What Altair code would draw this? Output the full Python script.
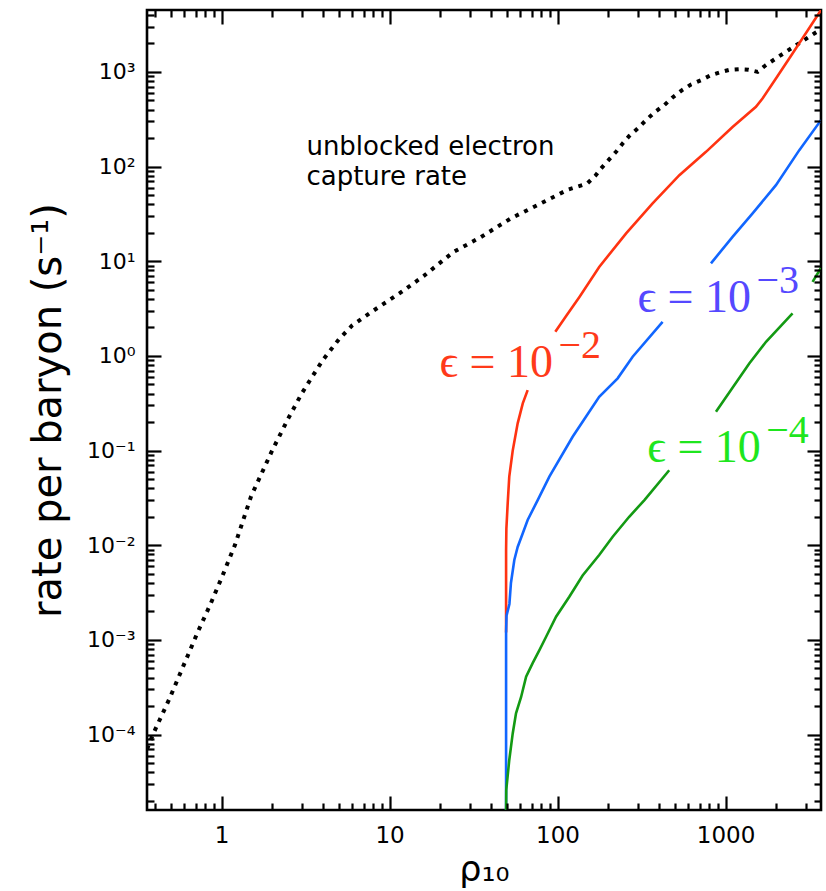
import altair as alt
import pandas as pd

# ---------------- data ----------------
dotted_rho = [0.36, 0.39, 0.49, 0.61, 0.72, 0.86, 1.0, 1.2, 1.5, 2.0, 2.5, 3.0, 3.5, 4.0, 5.0, 6.0, 8.0,
              11.5, 16, 24, 35, 53, 80, 115, 150, 168, 181, 203, 223, 244, 267, 300, 336, 382,
              432, 484, 551, 623, 714, 819, 927, 1052, 1208, 1371, 1552, 1740, 2290, 2800, 3373, 3700]
dotted_rate = [7e-5, 1e-4, 2.4e-4, 6e-4, 1.2e-3, 2.4e-3, 4.5e-3, 1.0e-2, 3.3e-2, 0.10, 0.22, 0.40, 0.62, 0.90,
               1.5, 2.1, 3.0,
               4.6, 7.0, 12.5, 18, 28.5, 41, 57, 66, 80, 95, 119, 143, 175, 210, 252, 309, 380,
               445, 537, 641, 736, 816, 923, 990, 1050, 1067, 1055, 1000, 1180, 1630, 2050, 2540, 2800]

red_rho_a = [49.4, 49.4, 49.6, 50.5, 51.6, 54.1, 57.9, 62.1, 66.4]
red_rate_a = [1.2e-3, 8.9e-3, 0.015, 0.0277, 0.053, 0.10, 0.194, 0.315, 0.435]
red_rho_b = [97, 112, 135, 177, 256, 368, 531, 765, 1101, 1517, 1660, 1995, 2505, 3700]
red_rate_b = [1.8, 2.6, 4.2, 8.7, 19.7, 40.8, 81, 143, 262, 427, 523, 852, 1563, 4490]

blue_rho_a = [49.4, 49.4, 49.7, 51.7, 52.8, 55.3, 57.9, 62.1, 66.4, 76.2, 89.4, 123, 177, 228, 280, 422]
blue_rate_a = [1.6e-5, 1.2e-3, 1.8e-3, 2.4e-3, 4.0e-3, 7.0e-3, 9.6e-3, 0.0134, 0.0185, 0.030, 0.053, 0.14,
               0.37, 0.58, 0.98, 2.29]
blue_rho_b = [819, 1101, 1449, 1995, 2748, 3700]
blue_rate_b = [9.5, 18.1, 32, 63.6, 149, 309]

green_rho_a = [49.4, 49.5, 51.6, 54.1, 56.6, 60.7, 65, 71.1, 78, 85.5, 98, 117.5, 141, 177, 213, 267, 329, 462]
green_rate_a = [1.55e-5, 2.6e-5, 5.4e-5, 1.03e-4, 1.68e-4, 2.5e-4, 4.1e-4, 5.7e-4, 7.8e-4, 1.08e-3, 1.76e-3,
                2.86e-3, 4.8e-3, 7.9e-3, 0.0123, 0.020, 0.030, 0.062]
green_rho_b = [877, 1384, 1742, 2505]
green_rate_b = [0.257, 0.83, 1.41, 2.81]
green_rho_c = [3296, 3700]
green_rate_c = [6.06, 8.5]

label_keys = ["eps2", "eps3", "eps4"]
label_main = ["ϵ = 10", "ϵ = 10", "ϵ = 10"]
label_exp = ["−2", "−3", "−4"]
label_rho = [19.8, 299, 342]
label_rate = [0.6, 2.9, 0.0757]

note_lines = ["unblocked electron", "capture rate"]
note_rho = [3.2]
note_rate = [132]

x_major = [1, 10, 100, 1000]
y_major = [1e-4, 1e-3, 1e-2, 1e-1, 1, 10, 100, 1000]
y_major_labels = ["10⁻⁴", "10⁻³", "10⁻²", "10⁻¹", "10⁰", "10¹", "10²", "10³"]

X_DOMAIN = [0.36, 3700]
Y_DOMAIN = [1.6e-5, 4500]

x_minor = [k * 10 ** e for e in range(-1, 4) for k in range(2, 10)
           if X_DOMAIN[0] <= k * 10 ** e <= X_DOMAIN[1]]
y_minor = [k * 10.0 ** e for e in range(-5, 4) for k in range(2, 10)
           if Y_DOMAIN[0] <= k * 10.0 ** e <= Y_DOMAIN[1]]

# ---------------- styles ----------------
line_colors = {"eps2": "#ff3311", "eps3": "#1166ff", "eps4": "#139a13"}
text_colors = {"eps2": "#ff3a1a", "eps3": "#5548ff", "eps4": "#1ee61e"}

# ---------------- tables ----------------
rows = []
for key, segs in [
    ("eps2", [(red_rho_a, red_rate_a), (red_rho_b, red_rate_b)]),
    ("eps3", [(blue_rho_a, blue_rate_a), (blue_rho_b, blue_rate_b)]),
    ("eps4", [(green_rho_a, green_rate_a), (green_rho_b, green_rate_b), (green_rho_c, green_rate_c)]),
]:
    for i, (rr, vv) in enumerate(segs):
        for j, (r, v) in enumerate(zip(rr, vv)):
            rows.append({"curve": key, "seg": f"{key}_{i}", "rho": r, "rate": v,
                         "order": j, "col": line_colors[key]})
df_lines = pd.DataFrame(rows)
df_dot = pd.DataFrame({"rho": dotted_rho, "rate": dotted_rate, "order": range(len(dotted_rho))})
df_lab = pd.DataFrame({"key": label_keys, "main": label_main, "exp": label_exp,
                       "rho": label_rho, "rate": label_rate,
                       "col": [text_colors[k] for k in label_keys]})
df_note = pd.DataFrame({"rho": note_rho, "rate": note_rate, "txt": [note_lines]})

xs = alt.Scale(type="log", domain=X_DOMAIN, nice=False)
ys = alt.Scale(type="log", domain=Y_DOMAIN, nice=False)

label_expr = "[" + ",".join(f"'{t}'" for t in y_major_labels) + "][round(log(datum.value)/LN10)+4]"

ax_x_lab = alt.Axis(orient="bottom", values=x_major, format="d", ticks=False, tickSize=0,
                    domain=False, grid=False, labelFont="DejaVu Sans", labelFontSize=23,
                    labelPadding=14, labelColor="black", labelFlush=False,
                    title="ρ₁₀", titleFont="DejaVu Sans", titleFontSize=35,
                    titleFontWeight="normal", titleColor="black", titlePadding=5)
ax_y_lab = alt.Axis(orient="left", values=y_major, labelExpr=label_expr, ticks=False, tickSize=0,
                    domain=False, grid=False, labelFont="DejaVu Sans", labelFontSize=22,
                    labelPadding=12, labelColor="black", labelFlush=False,
                    title="rate per baryon (s⁻¹)", titleFont="DejaVu Sans", titleFontSize=40,
                    titleFontWeight="normal", titleColor="black", titlePadding=18)


def tick_axis(orient, values, size):
    return alt.Axis(orient=orient, values=values, offset=-size, tickSize=size, tickWidth=2.2,
                    tickColor="black", labels=False, domain=False, grid=False, title=None,
                    ticks=True, zindex=1)


def tick_layer(xo, yo, xv, yv, size):
    return alt.Chart(df_dot).mark_point(opacity=0, clip=True).encode(
        x=alt.X("rho:Q", scale=xs, axis=tick_axis(xo, xv, size)),
        y=alt.Y("rate:Q", scale=ys, axis=tick_axis(yo, yv, size)),
    )


dotted = alt.Chart(df_dot).mark_line(
    color="black", strokeWidth=4, strokeDash=[4, 6], strokeCap="butt", clip=True
).encode(
    x=alt.X("rho:Q", scale=xs, axis=ax_x_lab),
    y=alt.Y("rate:Q", scale=ys, axis=ax_y_lab),
    order="order:Q",
)

curves = alt.Chart(df_lines).mark_line(strokeWidth=2.6, clip=True).encode(
    x=alt.X("rho:Q", scale=xs, axis=None),
    y=alt.Y("rate:Q", scale=ys, axis=None),
    color=alt.Color("col:N", scale=None),
    detail="seg:N",
    order="order:Q",
)

labels_main = alt.Chart(df_lab).mark_text(
    font="Liberation Serif, DejaVu Serif", fontSize=46, align="left", baseline="alphabetic"
).encode(
    x=alt.X("rho:Q", scale=xs, axis=None),
    y=alt.Y("rate:Q", scale=ys, axis=None),
    text="main:N",
    color=alt.Color("col:N", scale=None),
)
labels_exp = alt.Chart(df_lab).mark_text(
    font="Liberation Serif, DejaVu Serif", fontSize=40, align="left", baseline="alphabetic",
    dx=119, dy=-19
).encode(
    x=alt.X("rho:Q", scale=xs, axis=None),
    y=alt.Y("rate:Q", scale=ys, axis=None),
    text="exp:N",
    color=alt.Color("col:N", scale=None),
)

note = alt.Chart(df_note).mark_text(
    font="DejaVu Sans", fontSize=26, align="left", baseline="alphabetic", lineHeight=30, color="black"
).encode(
    x=alt.X("rho:Q", scale=xs, axis=None),
    y=alt.Y("rate:Q", scale=ys, axis=None),
    text="txt",
)

chart = alt.layer(
    tick_layer("bottom", "left", x_major, y_major, 14),
    tick_layer("bottom", "left", x_minor, y_minor, 7),
    tick_layer("top", "right", x_major, y_major, 14),
    tick_layer("top", "right", x_minor, y_minor, 7),
    dotted, curves, labels_main, labels_exp, note,
).resolve_axis(x="independent", y="independent").properties(
    width=674, height=800,
    autosize=alt.AutoSizeParams(type="none"),
    padding={"left": 147, "top": 10, "right": 5, "bottom": 81},
    background="white",
).configure_view(stroke="black", strokeWidth=2.6)

chart.save("out.html", embed_options={"renderer": "svg", "actions": False})
